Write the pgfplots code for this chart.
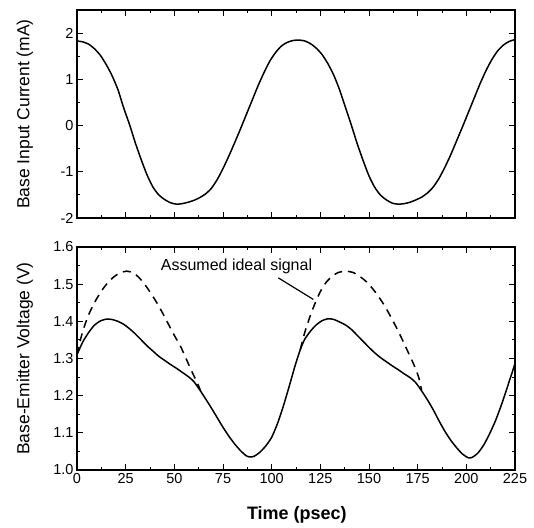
\documentclass[border=0pt]{standalone}
\usepackage{fontspec}
\setmainfont{Liberation Sans}
\usepackage{pgfplots}
\pgfplotsset{compat=1.18}

\pgfplotsset{
  panel/.style={
    scale only axis, width=438pt,
    xmin=0, xmax=225, xtick={0,25,...,225}, minor x tick num=1,
    tick align=inside, xtick pos=both, ytick pos=both,
    major tick length=6pt, minor tick length=3pt,
    axis line style={line width=1.2pt},
    every tick/.style={black, line width=1pt},
    tick label style={font=\fontsize{14.5}{16}\selectfont},
    /pgf/number format/assume math mode=true,
    label style={font=\fontsize{17.5}{20}\selectfont},
    ylabel style={at={(axis description cs:-0.119,0.5)}, anchor=center},
  },
  curve/.style={black, line width=1.5pt, smooth, tension=0.4, no markers},
}

\begin{document}
\begin{tikzpicture}
  % lower panel: base-emitter voltage
  \begin{axis}[panel, name=bot, at={(0pt,0pt)}, height=223pt,
      ymin=1.0, ymax=1.6, ytick={1.0,1.1,...,1.6}, minor y tick num=1,
      yticklabel style={/pgf/number format/fixed, /pgf/number format/fixed zerofill,
                        /pgf/number format/precision=1},
      xlabel={\bfseries Time (psec)},
      xlabel style={at={(axis description cs:0.502,-0.2)}, anchor=center,
                    font=\fontsize{18}{20}\selectfont},
      ylabel={Base-Emitter Voltage (V)}]
    \addplot[curve] coordinates {
      (0,1.310) (3,1.345) (6,1.370) (9,1.390) (12,1.401) (15,1.406)
      (18,1.405) (21,1.400) (24,1.392) (27,1.380) (30,1.366) (33,1.350)
      (36,1.334) (39,1.320) (42,1.306) (45,1.295) (48,1.284) (51,1.274)
      (54,1.263) (57,1.252) (60,1.238) (63,1.216) (66,1.192) (69,1.167)
      (72,1.141) (75,1.115) (78,1.091) (81,1.070) (84,1.052) (87,1.038)
      (89,1.035) (91,1.037) (94,1.048) (97,1.065) (100,1.088) (103,1.125)
      (106,1.172) (109,1.225) (112,1.280) (114.7,1.324) (117,1.352)
      (120,1.374) (123,1.391) (126,1.402) (129,1.407) (132,1.405)
      (135,1.398) (138,1.390) (141,1.378) (144,1.362) (147,1.346)
      (150,1.330) (153,1.315) (156,1.302) (159,1.291) (162,1.280)
      (165,1.270) (168,1.259) (171,1.249) (174,1.235) (177,1.213)
      (180,1.189) (183,1.162) (186,1.132) (189,1.104) (192,1.080)
      (195,1.060) (198,1.043) (201,1.033) (203,1.034) (206,1.046)
      (209,1.068) (212,1.098) (215,1.133) (218,1.175) (221,1.222)
      (224,1.270) (225,1.287)};
    \addplot[curve, dash pattern=on 8pt off 6pt] coordinates {
      (0,1.310) (2,1.355) (4,1.390) (6,1.418) (8,1.440) (10,1.460)
      (13,1.485) (16,1.505) (19,1.520) (22,1.530) (25.5,1.535) (29,1.530)
      (32,1.517) (35,1.498) (38,1.475) (41,1.450) (44,1.422) (47,1.392)
      (50,1.362) (53,1.335) (56,1.300) (59,1.265) (62,1.232) (63.5,1.213)};
    \addplot[curve, dash pattern=on 8pt off 6pt] coordinates {
      (114.7,1.324) (117,1.370) (119.5,1.410) (122,1.445) (125,1.480)
      (128,1.505) (131,1.521) (134,1.531) (138,1.535) (142,1.531)
      (146,1.518) (149,1.505) (152,1.487) (155,1.466) (158,1.442)
      (161,1.414) (164,1.384) (167,1.352) (170,1.318) (173,1.284)
      (175.5,1.250) (177,1.215)};
    \node[anchor=west, font=\fontsize{16}{18}\selectfont, inner sep=0pt]
      at (axis cs:43,1.547) {Assumed ideal signal};
    \draw[line width=1.2pt] (axis cs:103.4,1.517) -- (axis cs:121.4,1.459);
  \end{axis}

  % upper panel: base input current
  \begin{axis}[panel, name=top, at={(0pt,252pt)}, height=208pt,
      ymin=-2, ymax=2.5, ytick={-2,-1,0,1,2}, minor y tick num=1,
      xticklabels={},
      ylabel={Base Input Current (mA)}]
    \addplot[curve] coordinates {
      (0,1.83) (3,1.81) (6,1.76) (9,1.66) (12,1.52) (15,1.32) (18,1.08)
      (21,0.78) (24,0.38) (27,0.02) (30,-0.38) (33,-0.74) (36,-1.07)
      (39,-1.33) (42,-1.50) (45,-1.60) (48,-1.67) (51,-1.70) (54,-1.69)
      (57,-1.66) (60,-1.62) (63,-1.56) (66,-1.48) (69,-1.36) (72,-1.17)
      (75,-0.93) (78,-0.66) (81,-0.37) (84,-0.07) (87,0.24) (90,0.55)
      (93,0.86) (96,1.14) (99,1.39) (102,1.58) (105,1.72) (108,1.80)
      (111,1.84) (114,1.85) (117,1.83) (120,1.77) (123,1.67) (126,1.53)
      (129,1.33) (132,1.08) (135,0.76) (138,0.38) (141,0.00) (144,-0.40)
      (147,-0.76) (150,-1.09) (153,-1.34) (156,-1.51) (159,-1.61)
      (162,-1.68) (165,-1.70) (168,-1.69) (171,-1.66) (174,-1.61)
      (177,-1.55) (180,-1.46) (183,-1.33) (186,-1.14) (189,-0.90)
      (192,-0.63) (195,-0.33) (198,-0.03) (201,0.28) (204,0.59)
      (207,0.90) (210,1.18) (213,1.42) (216,1.61) (219,1.74) (222,1.82)
      (225,1.86)};
  \end{axis}

  % page frame matching the reference's margins
  \path (-77pt,-57pt) rectangle (457pt,470pt);
\end{tikzpicture}
\end{document}
